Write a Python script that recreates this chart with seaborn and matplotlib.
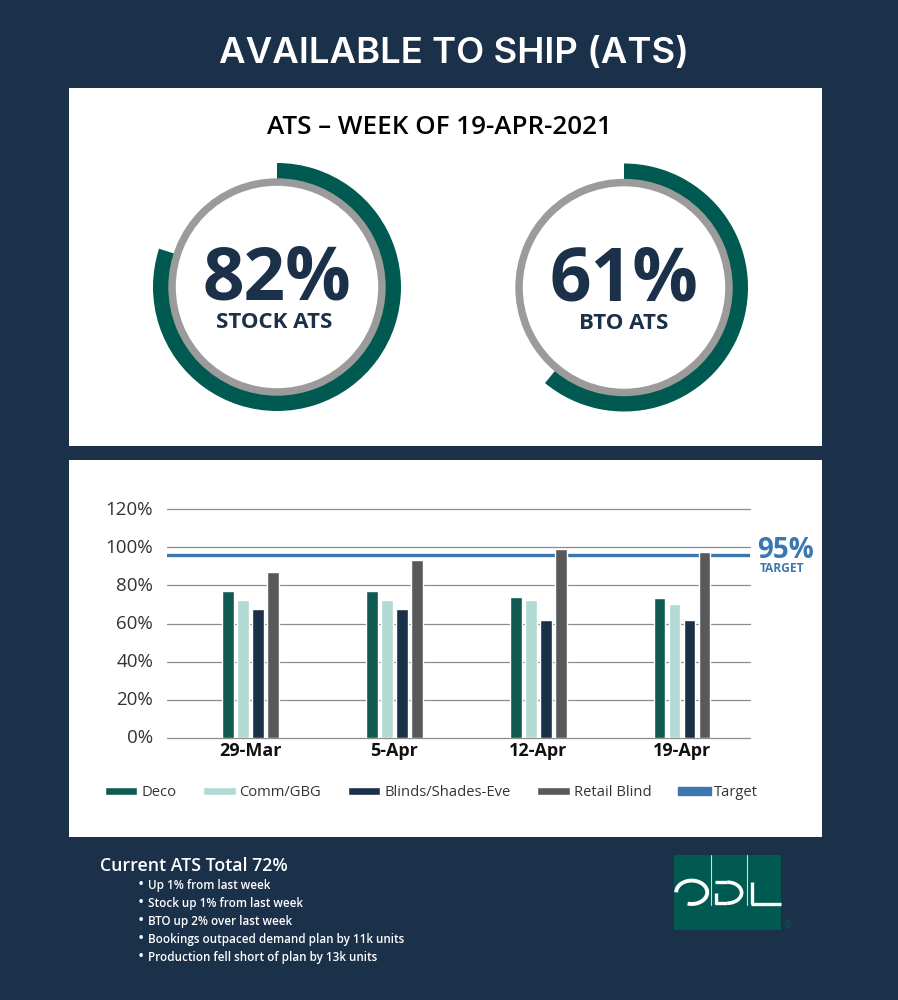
# libraries
import matplotlib
matplotlib.use('Agg')
import matplotlib.pyplot as plt
from matplotlib.patches import Arc, Patch, Rectangle
from matplotlib.transforms import ScaledTranslation
import pandas as pd
import seaborn as sns

# chart data
weeks = ['29-Mar', '5-Apr', '12-Apr', '19-Apr']
deco = [77, 77, 74, 73.5]
comm_gbg = [72.3, 72.3, 72.3, 70]
blinds_shades = [67.5, 67.5, 62, 62]
retail_blind = [87, 93.5, 99, 97.5]
target_line = 96

ring_labels = ['STOCK ATS', 'BTO ATS']
ring_text = ['82%', '61%']
ring_shares = [80, 61]

y_ticks = [0, 20, 40, 60, 80, 100, 120]
notes = [
    'Up 1% from last week',
    'Stock up 1% from last week',
    'BTO up 2% over last week',
    'Bookings outpaced demand plan by 11k units',
    'Production fell short of plan by 13k units',
]

# colors
NAVY = '#1B3049'
TEAL = '#005A51'
GREY_RING = '#9B9B9B'
BLUE = '#3A78AF'
series_colors = {
    'Deco': '#0F5B52',
    'Comm/GBG': '#B0DAD3',
    'Blinds/Shades-Eve': '#1B3049',
    'Retail Blind': '#58595B',
}

W, H = 898, 1000

sns.set_theme(style='white')
plt.rcParams['font.family'] = ['Open Sans', 'DejaVu Sans']

fig = plt.figure(figsize=(W / 100, H / 100), dpi=100, facecolor=NAVY)


def box(left, top, right, bottom):
    # pixel box to figure fractions
    return [left / W, 1 - bottom / H, (right - left) / W, (bottom - top) / H]


# canvas in pixel coordinates for panels, text and logo
bg = fig.add_axes([0, 0, 1, 1], zorder=0)
bg.set_xlim(0, W)
bg.set_ylim(H, 0)
bg.axis('off')

bg.add_patch(Rectangle((69, 88), 753, 358, color='white', lw=0))
bg.add_patch(Rectangle((69, 460), 753, 377, color='white', lw=0))

# Inter runs wider than Open Sans, closer to the letter-spaced original
bg.text(453.5, 53, 'AVAILABLE TO SHIP (ATS)', color='white', fontsize=26.3, family='Inter',
        fontweight='semibold', ha='center', va='center')
bg.text(439, 127, 'ATS – WEEK OF 19-APR-2021', color='black', fontsize=18.7,
        fontweight='semibold', ha='center', va='center')

# rings
centers = [(277, 287), (624, 287.5)]
for (cx, cy), share, big, small in zip(centers, ring_shares, ring_text, ring_labels):
    ax_ring = fig.add_axes(box(cx - 124, cy - 124, cx + 124, cy + 124), zorder=1)
    ax_ring.pie([share, 100 - share], colors=[TEAL, 'none'], startangle=90, counterclock=False,
                radius=1, wedgeprops=dict(width=17 / 124, linewidth=0))
    ax_ring.pie([1], colors=[GREY_RING], radius=108.7 / 124,
                wedgeprops=dict(width=7.5 / 124, linewidth=0))
    ax_ring.set_xlim(-1, 1)
    ax_ring.set_ylim(-1, 1)
    ax_ring.patch.set_alpha(0)
    bg.text(cx - 0.5, cy - 6, big, color=NAVY, fontsize=52.5, fontweight='bold', ha='center', va='center')
    bg.text(cx - 3 if small == 'STOCK ATS' else cx, cy + 36, small, color=NAVY, fontsize=16,
            fontweight='bold', ha='center', va='center')

# bar chart
df = pd.DataFrame({
    'week': weeks,
    'Deco': deco,
    'Comm/GBG': comm_gbg,
    'Blinds/Shades-Eve': blinds_shades,
    'Retail Blind': retail_blind,
})
df_long = df.melt(id_vars='week', var_name='serie', value_name='ats')

ax = fig.add_axes(box(167, 509.3, 750, 737.7), zorder=2)
ax.patch.set_alpha(0)
sns.barplot(data=df_long, x='week', y='ats', hue='serie', palette=series_colors,
            width=0.417, gap=0.22, saturation=1, ax=ax, zorder=3)
ax.set_xlim(-0.582, 3.473)
ax.set_ylim(0, 120)
ax.axhline(target_line, color=BLUE, lw=2.4, zorder=2)
ax.set_axisbelow(True)
ax.set_yticks(y_ticks)
ax.set_yticklabels([f'{v}%' for v in y_ticks], fontsize=13.5, color='#333333')
ax.set_xticks(range(len(weeks)))
ax.set_xticklabels(weeks, fontsize=13, fontweight='bold', color='#111111')
ax.set_xlabel('')
ax.set_ylabel('')
ax.tick_params(axis='both', length=0)
ax.tick_params(axis='y', pad=10)
ax.tick_params(axis='x', pad=3)
ax.grid(axis='y', color='#8C8C8C', lw=0.9, zorder=1)
for line in ax.get_ygridlines():
    line.set_clip_on(False)
# tick labels sit a touch above their gridlines
nudge = ScaledTranslation(0, 1.5 / 100, fig.dpi_scale_trans)
for label in ax.get_yticklabels():
    label.set_transform(label.get_transform() + nudge)
sns.despine(ax=ax, left=True, bottom=True)

handles, labels = ax.get_legend_handles_labels()
handles.append(Patch(color=BLUE))
labels.append('Target')
ax.legend(handles, labels, ncols=5, frameon=False, loc='center left',
          bbox_to_anchor=(-62 / 583, -0.242), borderpad=0, borderaxespad=0,
          fontsize=10.6, handlelength=2.2, handleheight=0.5, handletextpad=0.25,
          columnspacing=1.84, labelcolor='#333333')

# target label
bg.text(785, 550, '95%', color=BLUE, fontsize=20, fontweight='bold', ha='center', va='center')
bg.text(782, 568.5, 'TARGET', color=BLUE, fontsize=8.6, fontweight='bold', ha='center', va='center')

# notes
bg.text(100, 866, 'Current ATS Total 72%', color='white', fontsize=12.8, fontweight='semibold',
        ha='left', va='center')
for i, note in enumerate(notes):
    y = 885 + i * 18
    bg.text(138, y, '•', color='white', fontsize=12, ha='left', va='center')
    bg.text(148, y, note, color='white', fontsize=8.4, fontweight='semibold', ha='left', va='center')

# logo
bg.add_patch(Rectangle((674, 855), 107, 75, color=TEAL, lw=0))
for x in (710.7, 747.3):
    bg.plot([x, x], [855, 905], color='#C9DEDA', lw=0.8)
logo_line = dict(color='white', lw=2.4, solid_capstyle='butt')
bg.add_patch(Arc((691.7, 892.3), 31, 23.4, theta1=180, theta2=110, color='white', lw=2.8))
bg.add_patch(Arc((727.3, 892.7), 28.6, 21, theta1=270, theta2=90, color='white', lw=2.6))
bg.plot([715, 727.3], [882.2, 882.2], **logo_line)
bg.plot([715, 727.3], [903.3, 903.3], **logo_line)
bg.plot([716, 716], [893, 904], **logo_line)
bg.plot([752, 752], [882, 904], **logo_line)
bg.plot([751, 781], [903.5, 903.5], **logo_line)
bg.text(787.5, 926, '®', color=TEAL, fontsize=7, ha='center', va='center')

fig.savefig('out.png', dpi=100, facecolor=NAVY)
plt.close(fig)
